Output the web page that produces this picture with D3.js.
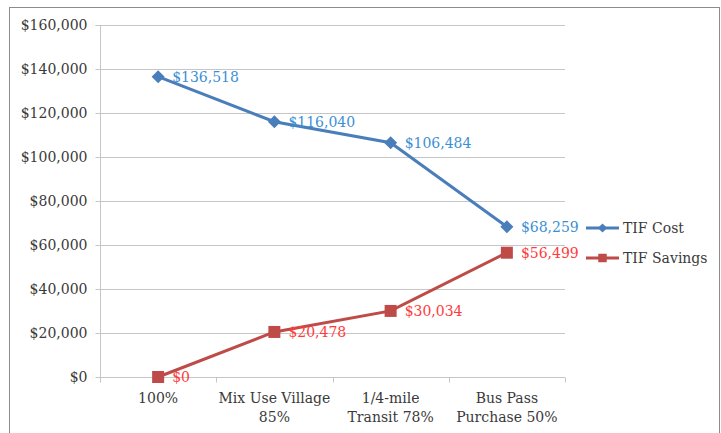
<!DOCTYPE html>
<html><head><meta charset="utf-8">
<script src="https://cdn.jsdelivr.net/npm/d3@7"></script>
<style>body{margin:0;background:#fff}svg text{font-family:"DejaVu Serif",serif;}</style>
</head><body><svg id="c" width="721" height="433"></svg>
<script>
const categories = [["100%"],["Mix Use Village","85%"],["1/4-mile","Transit 78%"],["Bus Pass","Purchase 50%"]];
const tifCost = [136518,116040,106484,68259];
const tifSavings = [0,20478,30034,56499];
const yTicks = [0,20000,40000,60000,80000,100000,120000,140000,160000];
const seriesNames = ["TIF Cost","TIF Savings"];

const svg = d3.select("#c");
svg.append("rect").attr("x",9.5).attr("y",7.5).attr("width",710).attr("height",440)
  .attr("fill","#fff").attr("stroke","#8c8c8c").attr("stroke-width",1);

const x0=100, x1=565, yTop=25, yBot=377;
const x = d3.scaleBand().domain(d3.range(categories.length)).range([x0,x1]);
const y = d3.scaleLinear().domain([0,160000]).range([yBot,yTop]);
const fmt = d3.format("$,");

// gridlines
svg.append("g").selectAll("line").data(yTicks.filter(d=>d>0)).join("line")
  .attr("x1",x0).attr("x2",x1).attr("y1",d=>Math.round(y(d))+0.5).attr("y2",d=>Math.round(y(d))+0.5)
  .attr("stroke","#c6c6c6");

const yAxis = svg.append("g").attr("transform",`translate(${x0+0.5},0)`)
  .call(d3.axisLeft(y).tickValues(yTicks).tickFormat(fmt).tickSize(5).tickPadding(8));
yAxis.select(".domain").attr("stroke","#c6c6c6").attr("d",`M-5,${yTop+0.5}H0V${yBot}`);
yAxis.selectAll(".tick line").attr("stroke","#c6c6c6");
yAxis.selectAll("text").attr("font-size",14).attr("fill","#3a3a3a").attr("font-family","DejaVu Serif");

// x axis
const xa = svg.append("g").attr("transform",`translate(0,${yBot+0.5})`);
xa.append("line").attr("x1",x0).attr("x2",x1).attr("stroke","#c6c6c6");
xa.selectAll("line.t").data(d3.range(categories.length+1)).join("line").attr("class","t")
  .attr("x1",i=>Math.round(x0+i*x.bandwidth())+0.5).attr("x2",i=>Math.round(x0+i*x.bandwidth())+0.5)
  .attr("y1",0).attr("y2",5).attr("stroke","#c6c6c6");
categories.forEach((lines,i)=>{
  const t = xa.append("text").attr("text-anchor","middle").attr("font-size",14).attr("fill","#3a3a3a")
    .attr("x",x(i)+x.bandwidth()/2);
  lines.forEach((l,j)=>t.append("tspan").attr("x",x(i)+x.bandwidth()/2).attr("y",25+j*19).text(l));
});

const cx = i=>x(i)+x.bandwidth()/2;
const line = d3.line().x((d,i)=>cx(i)).y(d=>y(d));
const series = [
  {name:seriesNames[0], values:tifCost, color:"#4a7ebb", label:"#3b8fd4", shape:d3.symbolSquare, size:85, rot:45},
  {name:seriesNames[1], values:tifSavings, color:"#be4b48", label:"#ff3b3b", shape:d3.symbolSquare, size:144, rot:0}
];
series.forEach(s=>{
  svg.append("path").datum(s.values).attr("d",line).attr("fill","none").attr("stroke",s.color).attr("stroke-width",3);
  svg.append("g").selectAll("path").data(s.values).join("path")
    .attr("transform",(d,i)=>`translate(${cx(i)},${y(d)}) rotate(${s.rot})`)
    .attr("d",d3.symbol().type(s.shape).size(s.size)).attr("fill",s.color);
  svg.append("g").selectAll("text").data(s.values).join("text")
    .attr("x",(d,i)=>cx(i)+14).attr("y",d=>y(d)).attr("dy","0.35em")
    .attr("font-size",14).attr("fill",s.label).text(d=>fmt(d));
});

// legend
series.forEach((s,k)=>{
  const ly = 228+k*30;
  const g = svg.append("g");
  g.append("line").attr("x1",586).attr("x2",619).attr("y1",ly).attr("y2",ly).attr("stroke",s.color).attr("stroke-width",3);
  g.append("path").attr("transform",`translate(602.5,${ly}) rotate(${s.rot})`).attr("d",d3.symbol().type(s.shape).size(s.size*0.5)).attr("fill",s.color);
  g.append("text").attr("x",623).attr("y",ly).attr("dy","0.35em").attr("font-size",14).attr("fill","#3a3a3a").text(s.name);
});
</script></body></html>
